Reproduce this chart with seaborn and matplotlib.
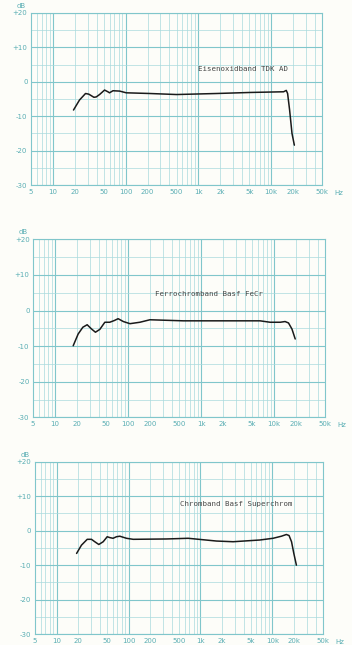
import numpy as np
import pandas as pd
import matplotlib
matplotlib.use("Agg")
import matplotlib.pyplot as plt
import seaborn as sns

# Frequency responses of three cassette tape types (Hz, dB)
tdk_freq = [19.2, 23.2, 28.1, 31.2, 36.6, 39.4, 43.8, 51.3, 57, 60, 66.9, 82.6,
            102, 214, 500, 1780, 5130, 14800, 16100, 16800, 17900, 19300, 20800]
tdk_db = [-8.2, -5.3, -3.4, -3.6, -4.5, -4.4, -3.7, -2.4, -2.9, -3.2, -2.6, -2.7,
          -3.2, -3.4, -3.7, -3.4, -3.1, -2.9, -2.5, -3.4, -8.2, -15.0, -18.4]

fecr_freq = [17.7, 20.7, 24, 27.5, 31.6, 35.7, 41, 48, 56, 65, 73, 86, 106, 145,
             199, 570, 2770, 6400, 8800, 12100, 14100, 15700, 17500, 19400]
fecr_db = [-9.9, -6.6, -4.7, -4.0, -5.2, -6.1, -5.3, -3.3, -3.3, -2.8, -2.3, -3.1,
           -3.7, -3.3, -2.6, -2.9, -2.9, -2.9, -3.3, -3.3, -3.1, -3.5, -5.2, -8.0]

chrom_freq = [19, 22.2, 26.7, 30.6, 34, 38.7, 44.5, 50.6, 55, 61, 68, 75.8, 93.7,
              116, 337, 674, 1667, 2840, 6670, 10200, 13300, 15600, 17000, 18400,
              19800, 21500]
chrom_db = [-6.6, -4.2, -2.5, -2.5, -3.2, -4.0, -3.2, -1.75, -2.0, -2.2, -1.75,
            -1.6, -2.2, -2.5, -2.4, -2.2, -3.0, -3.2, -2.7, -2.2, -1.6, -1.1, -1.4,
            -3.2, -6.6, -10.0]

labels = ["Eisenoxidband TDK AD", "Ferrochromband Basf FeCr", "Chromband Basf Superchrom"]
label_pos = [(1000, 3.6), (233, 4.7), (516, 7.8)]

x_ticks = [5, 10, 20, 50, 100, 200, 500, 1000, 2000, 5000, 10000, 20000, 50000]
x_ticklabels = ["5", "10", "20", "50", "100", "200", "500", "1k", "2k", "5k", "10k", "20k", "50k"]
y_ticks = [20, 10, 0, -10, -20, -30]
y_ticklabels = ["+20", "+10", "0", "-10", "-20", "-30"]

sns.set_style("white")
plt.rcParams["font.family"] = ["DejaVu Sans"]

grid_c = "#a9dadd"
grid_major = "#80c6cb"
text_c = "#5aaeb4"
paper = "#fdfdf9"

fig = plt.figure(figsize=(3.52, 6.45), dpi=100, facecolor=paper)
rects = [
    [0.088, 0.713, 0.827, 0.267],
    [0.094, 0.353, 0.830, 0.276],
    [0.099, 0.017, 0.818, 0.267],
]
series = [(tdk_freq, tdk_db), (fecr_freq, fecr_db), (chrom_freq, chrom_db)]

for rect, (fr, db), lab, (lx, ly) in zip(rects, series, labels, label_pos):
    ax = fig.add_axes(rect)
    ax.set_facecolor(paper)
    ax.set_xscale("log")
    ax.set_xlim(5, 50000)
    ax.set_ylim(-30, 20)

    # log-paper grid
    for dec in [1, 10, 100, 1000, 10000]:
        for m in range(1, 10):
            f = dec * m
            if 5 <= f <= 50000:
                major = m == 1
                ax.axvline(f, color=grid_major if major else grid_c,
                           lw=0.8 if major else 0.5, zorder=0)
    for v in range(-30, 21, 5):
        major = v % 10 == 0
        ax.axhline(v, color=grid_major if major else grid_c,
                   lw=0.8 if major else 0.5, zorder=0)

    df = pd.DataFrame({"freq": fr, "level": db})
    sns.lineplot(data=df, x="freq", y="level", ax=ax, color="#1a1a1a", lw=1.1,
                 sort=False, estimator=None, zorder=3)

    ax.text(lx, ly, lab, fontsize=5.3, family="DejaVu Sans Mono", color="#454545",
            va="center", ha="left", zorder=4)

    ax.set_xticks(x_ticks)
    ax.set_xticklabels(x_ticklabels)
    ax.xaxis.set_minor_locator(matplotlib.ticker.NullLocator())
    ax.set_yticks(y_ticks)
    ax.set_yticklabels(y_ticklabels)
    ax.tick_params(axis="both", length=0, labelsize=5, colors=text_c, pad=2.5)
    ax.set_xlabel("")
    ax.set_ylabel("")
    for s in ax.spines.values():
        s.set_color(grid_major)
        s.set_linewidth(0.8)
    ax.annotate("Hz", xy=(1.0, 0.0), xycoords="axes fraction", xytext=(9, -5.5),
                textcoords="offset points", fontsize=5, color=text_c,
                ha="left", va="center")
    ax.text(-0.035, 1.04, "dB", transform=ax.transAxes, fontsize=5, color=text_c,
            ha="center", va="center")

fig.savefig("out.png", dpi=100, facecolor=fig.get_facecolor())
